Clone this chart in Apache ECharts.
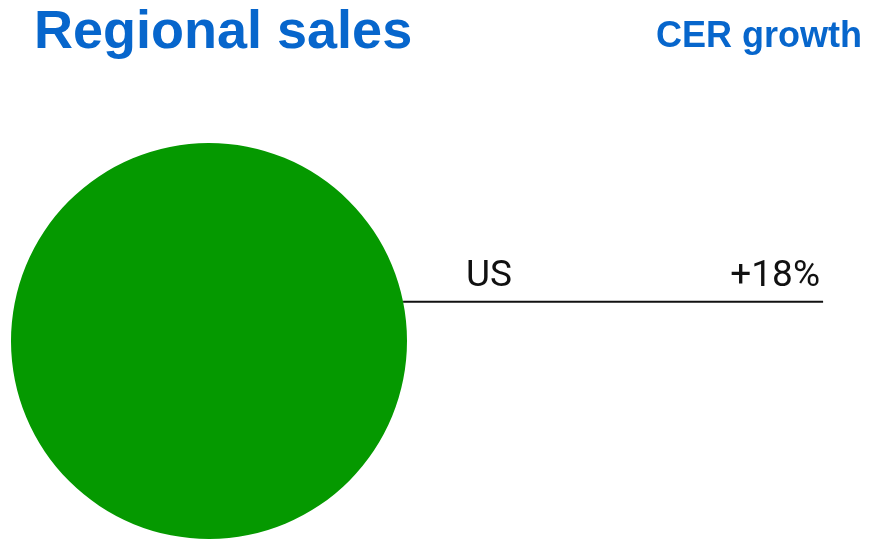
<!DOCTYPE html>
<html>
<head>
<meta charset="utf-8">
<script src="https://cdn.jsdelivr.net/npm/echarts@6/dist/echarts.min.js"></script>
<style>
  html, body { margin: 0; padding: 0; background: #ffffff; }
  #chart { width: 877px; height: 540px; }
</style>
</head>
<body>
<div id="chart"></div>
<script>
// Regional sales split and constant-exchange-rate growth
const regions = ['US'];
const salesShare = [100];
const cerGrowth = ['+18%'];

const BLUE = '#0766cc';
const GREEN = '#059900';
const HEAD_FONT = '"Liberation Sans", Arial, sans-serif';
const BODY_FONT = 'Roboto, sans-serif';

const chart = echarts.init(document.getElementById('chart'), null, { renderer: 'canvas' });

chart.setOption({
  animation: false,
  backgroundColor: '#ffffff',
  title: [
    {
      text: 'Regional sales',
      left: 34, top: 6, padding: 0,
      textStyle: { color: BLUE, fontFamily: HEAD_FONT, fontWeight: 'bold', fontSize: 54 }
    },
    {
      text: 'CER growth',
      right: 15, top: 19, padding: 0,
      textStyle: { color: BLUE, fontFamily: HEAD_FONT, fontWeight: 'bold', fontSize: 36 }
    },
    {
      text: regions[0],
      left: 466, top: 258, padding: 0,
      textStyle: { color: '#111111', fontFamily: BODY_FONT, fontWeight: 'normal', fontSize: 37 }
    },
    {
      text: cerGrowth[0],
      right: 57, top: 258, padding: 0,
      textStyle: { color: '#111111', fontFamily: BODY_FONT, fontWeight: 'normal', fontSize: 37 }
    }
  ],
  series: [{
    type: 'pie',
    center: [209, 341],
    radius: [0, 198],
    startAngle: 191.4,
    clockwise: true,
    silent: true,
    itemStyle: { color: GREEN, borderWidth: 0 },
    label: { show: true, position: 'outside', formatter: ' ', fontSize: 1 },
    labelLine: {
      show: true,
      length: 0,
      length2: 420,
      smooth: false,
      lineStyle: { color: '#111111', width: 2 }
    },
    emphasis: { disabled: true },
    data: regions.map((name, i) => ({ name: name, value: salesShare[i] }))
  }]
});
</script>
</body>
</html>
